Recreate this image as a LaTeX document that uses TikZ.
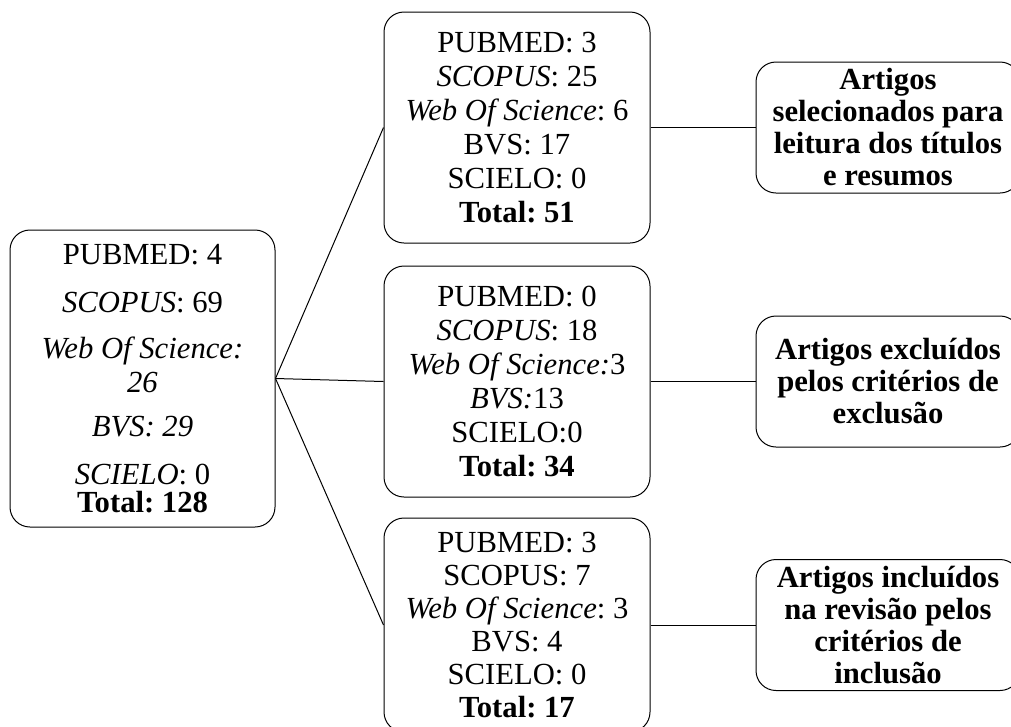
\documentclass[tikz,border=0pt]{standalone}
\usepackage{fontspec}
\setmainfont{Liberation Serif}
\frenchspacing
\begin{document}
\begin{tikzpicture}[x=0.75pt,y=-0.75pt,line width=0.75pt,
  box/.style={draw, rounded corners=15pt, align=center, inner sep=0pt,
    font=\fontsize{23}{25.5}\selectfont},
  midbox/.style={box, minimum width=199.5pt, minimum height=173.25pt},
  resbox/.style={box, minimum width=198pt, minimum height=98.25pt,
    font=\fontsize{23}{24}\selectfont\bfseries}]
  \useasboundingbox (0,0) rectangle (1011,726);
  \clip (0,0) rectangle (1011,726);
  % bases somadas
  \node [box, minimum width=198.75pt, minimum height=222.75pt] (todos) at (142.5,378.5)
    {PUBMED: 4\\[11pt]
     \textit{SCOPUS}: 69\\[9pt]
     \textit{Web Of Science:}\\
     \textit{26}\\[7.5pt]
     \textit{BVS: 29}\\[10.5pt]
     \textit{SCIELO}: 0\\[-4.5pt]
     \textbf{Total: 128}};
  % etapas
  \node [midbox] (selec) at (517,127.5)
    {PUBMED: 3\\ \textit{SCOPUS}: 25\\ \textit{Web Of Science}: 6\\
     BVS: 17\\ SCIELO: 0\\ \textbf{Total: 51}};
  \node [midbox] (exclu) at (517,381.5)
    {PUBMED: 0\\ \textit{SCOPUS}: 18\\ \textit{Web Of Science:}3\\
     \textit{BVS:}13\\ SCIELO:0\\ \textbf{Total: 34}};
  \node [midbox, minimum height=160.5pt, font=\fontsize{23}{24.75}\selectfont] (inclu) at (517,625)
    {PUBMED: 3\\ SCOPUS: 7\\ \textit{Web Of Science}: 3\\
     BVS: 4\\ SCIELO: 0\\ \textbf{Total: 17}};
  % resultados
  \node [resbox] (rselec) at (888,127.5)
    {Artigos\\ selecionados para\\ leitura dos títulos\\ e resumos};
  \node [resbox] (rexclu) at (888,381.5)
    {Artigos excluídos\\ pelos critérios de\\ exclusão};
  \node [resbox] (rinclu) at (888,625)
    {Artigos incluídos\\ na revisão pelos\\ critérios de\\ inclusão};
  \draw (todos.east) -- (selec.west);
  \draw (todos.east) -- (exclu.west);
  \draw (todos.east) -- (inclu.west);
  \draw (selec.east) -- (rselec.west);
  \draw (exclu.east) -- (rexclu.west);
  \draw (inclu.east) -- (rinclu.west);
\end{tikzpicture}
\end{document}
